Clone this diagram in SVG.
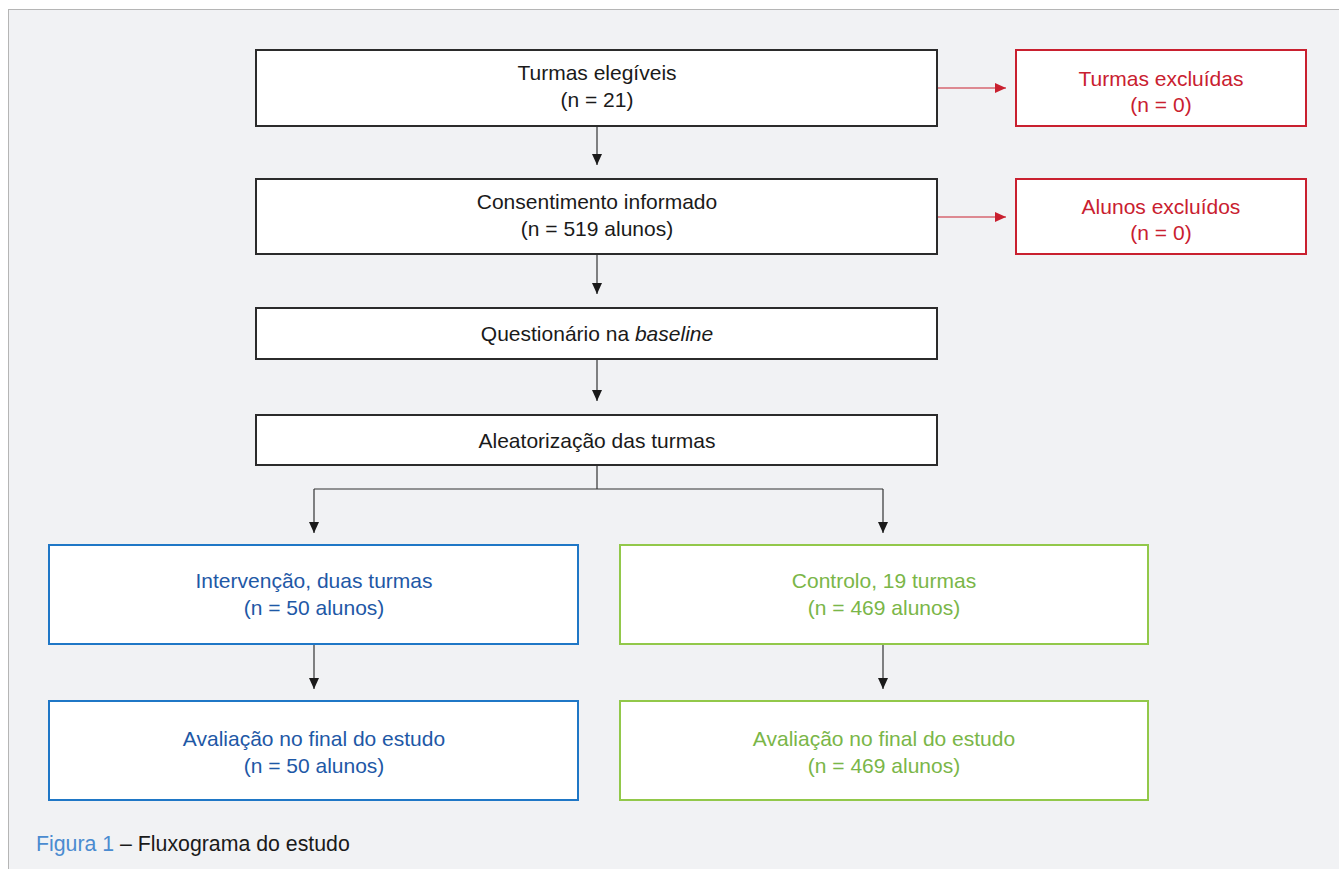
<svg xmlns="http://www.w3.org/2000/svg" width="1339" height="869" viewBox="0 0 1339 869">
<defs>
<style>
text{font-family:"Liberation Sans",Arial,sans-serif;font-size:21px;text-anchor:middle}
.b{fill:#fff;stroke:#2b2b2b;stroke-width:2}
.r{fill:#fff;stroke:#c9202f;stroke-width:2}
.bl{fill:#fff;stroke:#1f77c6;stroke-width:2}
.g{fill:#fff;stroke:#92c84a;stroke-width:2}
.tk{fill:#1a1a1a}
.tr{fill:#c9202f}
.tb{fill:#1e58a6}
.tg{fill:#7ab648}
.c{fill:none;stroke:#333;stroke-width:1.2}
.cr{fill:none;stroke:#c9202f;stroke-width:1.2}
</style>
<marker id="ak" markerWidth="12" markerHeight="12" refX="11" refY="6" orient="auto" markerUnits="userSpaceOnUse"><path d="M0,1 L11,6 L0,11 Z" fill="#1a1a1a"/></marker>
<marker id="ar" markerWidth="12" markerHeight="12" refX="11" refY="6" orient="auto" markerUnits="userSpaceOnUse"><path d="M0,1 L11,6 L0,11 Z" fill="#c9202f"/></marker>
</defs>
<rect x="0" y="0" width="1339" height="869" fill="#fff"/>
<rect x="8.5" y="9.5" width="1340" height="870" fill="#f1f2f4" stroke="#b5b5b5" stroke-width="1"/>
<g id="connectors">
<path class="c" d="M597,126 V165" marker-end="url(#ak)"/>
<path class="c" d="M597,254 V294" marker-end="url(#ak)"/>
<path class="c" d="M597,359 V401" marker-end="url(#ak)"/>
<path class="c" d="M597,465 V489 M314,489 H883"/>
<path class="c" d="M314,489 V533" marker-end="url(#ak)"/>
<path class="c" d="M883,489 V533" marker-end="url(#ak)"/>
<path class="c" d="M314,644 V689" marker-end="url(#ak)"/>
<path class="c" d="M883,644 V689" marker-end="url(#ak)"/>
<path class="cr" d="M937,88 H1006" marker-end="url(#ar)"/>
<path class="cr" d="M937,217 H1006" marker-end="url(#ar)"/>
</g>
<g id="n1"><rect class="b" x="256" y="50" width="681" height="76"/><text class="tk" x="597" y="80">Turmas elegíveis</text><text class="tk" x="597" y="107">(n = 21)</text></g>
<g id="n2"><rect class="r" x="1016" y="50" width="290" height="76"/><text class="tr" x="1161" y="86">Turmas excluídas</text><text class="tr" x="1161" y="112">(n = 0)</text></g>
<g id="n3"><rect class="b" x="256" y="179" width="681" height="75"/><text class="tk" x="597" y="209">Consentimento informado</text><text class="tk" x="597" y="236">(n = 519 alunos)</text></g>
<g id="n4"><rect class="r" x="1016" y="179" width="290" height="75"/><text class="tr" x="1161" y="214">Alunos excluídos</text><text class="tr" x="1161" y="240">(n = 0)</text></g>
<g id="n5"><rect class="b" x="256" y="308" width="681" height="51"/><text class="tk" x="597" y="341">Questionário na <tspan font-style="italic">baseline</tspan></text></g>
<g id="n6"><rect class="b" x="256" y="415" width="681" height="50"/><text class="tk" x="597" y="448">Aleatorização das turmas</text></g>
<g id="n7"><rect class="bl" x="49" y="545" width="529" height="99"/><text class="tb" x="314" y="588">Intervenção, duas turmas</text><text class="tb" x="314" y="615">(n = 50 alunos)</text></g>
<g id="n8"><rect class="g" x="620" y="545" width="528" height="99"/><text class="tg" x="884" y="588">Controlo, 19 turmas</text><text class="tg" x="884" y="615">(n = 469 alunos)</text></g>
<g id="n9"><rect class="bl" x="49" y="701" width="529" height="99"/><text class="tb" x="314" y="746">Avaliação no final do estudo</text><text class="tb" x="314" y="773">(n = 50 alunos)</text></g>
<g id="n10"><rect class="g" x="620" y="701" width="528" height="99"/><text class="tg" x="884" y="746">Avaliação no final do estudo</text><text class="tg" x="884" y="773">(n = 469 alunos)</text></g>
<g id="caption"><text x="36" y="851" style="text-anchor:start;font-size:21.3px"><tspan fill="#4a8bd0">Figura 1</tspan><tspan fill="#1a1a1a"> – Fluxograma do estudo</tspan></text></g>
</svg>
